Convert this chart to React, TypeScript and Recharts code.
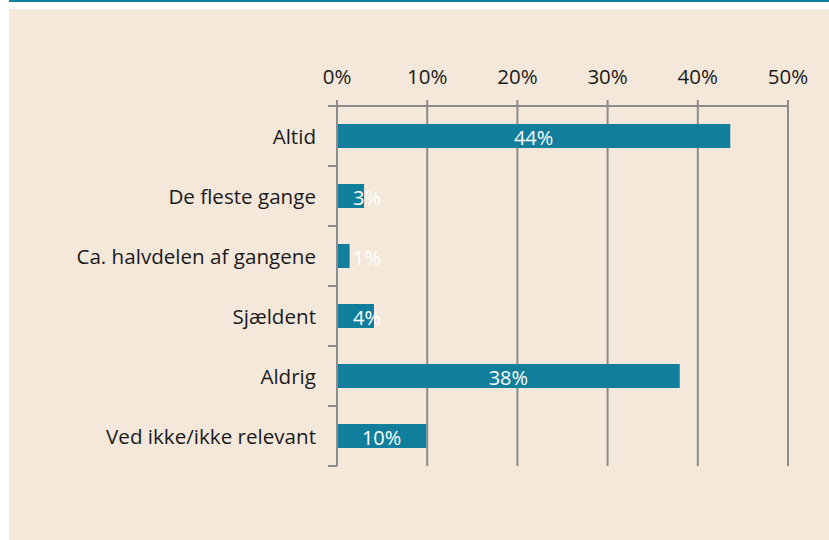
import React from "react";
import { BarChart, Bar, XAxis, YAxis, CartesianGrid, LabelList } from "recharts";

const categories = [
  "Altid",
  "De fleste gange",
  "Ca. halvdelen af gangene",
  "Sjældent",
  "Aldrig",
  "Ved ikke/ikke relevant",
];
const shares = [0.436, 0.03, 0.014, 0.041, 0.38, 0.099];
const xTicks = [0, 0.1, 0.2, 0.3, 0.4, 0.5];

const data = categories.map((name, i) => ({ name, value: shares[i] }));

const FONT = "'Open Sans', sans-serif";
const GRID = "#8c8c8c";

const pct = (v: number) => `${Math.round(v * 100)}%`;

// category label plus the small tick marks at the band edges
function CategoryTick(props: any) {
  const { x, y, payload, index, height, visibleTicksCount } = props;
  const band = height / visibleTicksCount;
  const last = index === visibleTicksCount - 1;
  return (
    <g>
      <line x1={x - 1} x2={x + 8} y1={y - band / 2} y2={y - band / 2} stroke={GRID} strokeWidth={2} />
      {last && (
        <line x1={x - 1} x2={x + 8} y1={y + band / 2} y2={y + band / 2} stroke={GRID} strokeWidth={2} />
      )}
      <text x={x - 13} y={y} dy={8} textAnchor="end" fontFamily={FONT} fontSize={20.6} fill="#1a1a1a">
        {payload.value}
      </text>
    </g>
  );
}

function BarValue(props: any) {
  const { x, y, width, height, value } = props;
  const cx = x + Math.max(width / 2, 30);
  return (
    <text x={cx} y={y + height / 2} dy={9} textAnchor="middle" fontFamily={FONT} fontSize={20} fill="#ffffff">
      {pct(value)}
    </text>
  );
}

export default function App() {
  return (
    <div style={{ position: "absolute", left: 0, top: 0, width: 829, height: 540, background: "#fff" }}>
      <div style={{ position: "absolute", left: 9, top: 0, right: 0, height: 2, background: "#0f8299" }} />
      <div style={{ position: "absolute", left: 9, top: 9, right: 0, bottom: 0, background: "#f4e8da" }} />
      <div style={{ position: "absolute", left: 0, top: 0 }}>
        <BarChart
          width={829}
          height={540}
          data={data}
          layout="vertical"
          margin={{ top: 66, right: 41, bottom: 74, left: 0 }}
          barCategoryGap="30%"
        >
          <CartesianGrid horizontal={false} stroke={GRID} strokeWidth={2} ticks={xTicks as any} />
          <XAxis
            type="number"
            orientation="top"
            domain={[0, 0.5]}
            ticks={xTicks}
            tickFormatter={pct}
            height={40}
            tickSize={6}
            tickMargin={16}
            axisLine={{ stroke: GRID, strokeWidth: 2 }}
            tickLine={{ stroke: GRID, strokeWidth: 2 }}
            tick={{ fontFamily: FONT, fontSize: 20.5, fill: "#1a1a1a" }}
          />
          <YAxis
            type="category"
            dataKey="name"
            width={337}
            axisLine={{ stroke: GRID, strokeWidth: 2 }}
            tickLine={false}
            tick={<CategoryTick />}
            interval={0}
          />
          <Bar dataKey="value" fill="#117f9c" isAnimationActive={false}>
            <LabelList dataKey="value" content={<BarValue />} />
          </Bar>
        </BarChart>
      </div>
    </div>
  );
}
